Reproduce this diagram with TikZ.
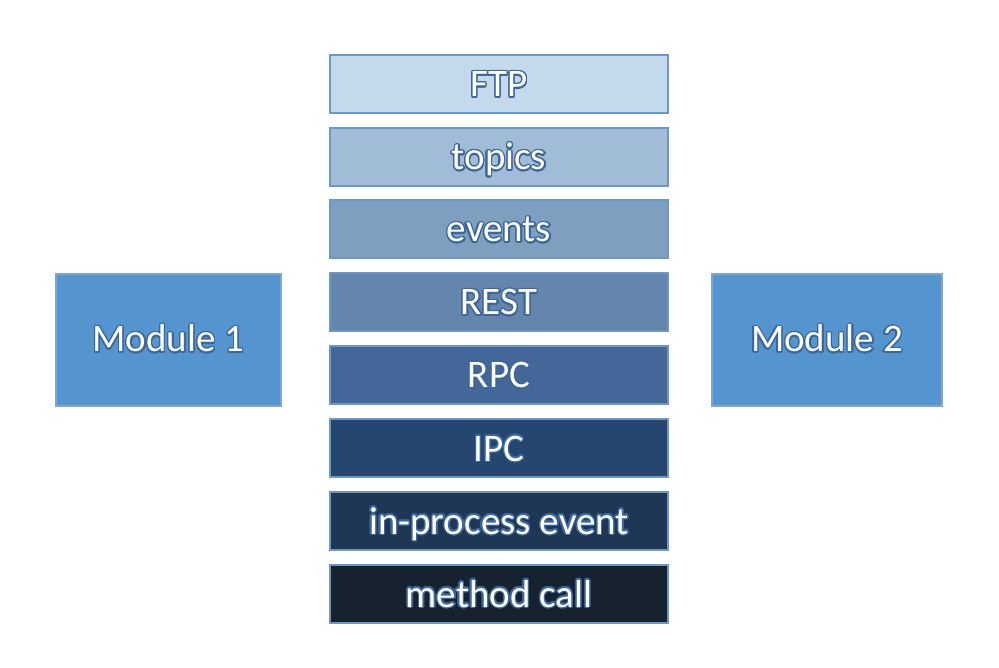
\documentclass[tikz,border=0pt]{standalone}
\usepackage{fontspec}
\setmainfont{Carlito}
\usepackage[copies]{contour}
\contourlength{1.3pt}
\contournumber{24}
\usepackage{tikz}
\definecolor{edgeblue}{HTML}{6B98C6}
\definecolor{glowblue}{HTML}{3D6699}
\definecolor{modblue}{HTML}{5495CF}
\definecolor{modedge}{HTML}{7DA8D6}
\definecolor{ftpfill}{HTML}{C4D9EC}
\definecolor{topicsfill}{HTML}{A0BCD6}
\definecolor{eventsfill}{HTML}{7F9FC1}
\definecolor{restfill}{HTML}{6485AC}
\definecolor{rpcfill}{HTML}{44679A}
\definecolor{ipcfill}{HTML}{24466F}
\definecolor{inprocfill}{HTML}{1F3655}
\definecolor{methodfill}{HTML}{17222F}
\tikzset{
    layer/.style={draw=edgeblue, line width=2pt, minimum width=338pt,
        minimum height=58pt, inner sep=0pt, text=white,
        text height=26pt, text depth=0pt,
        font=\fontsize{39}{40}\selectfont},
    module/.style={layer, draw=modedge, fill=modblue, minimum height=132pt,
        text height=24pt}
}
\newcommand\glow[1]{\contour{glowblue}{#1}}

\begin{document}
\begin{tikzpicture}[x=1pt,y=-1pt]
            \useasboundingbox (0,0) rectangle (999,668);
            % the stack of ways to talk
            \node[layer, fill=ftpfill]    (ftp)    at (499,84)  {\glow{FTP}};
            \node[layer, fill=topicsfill] (topics) at (499,157) {\glow{topics}};
            \node[layer, fill=eventsfill] (events) at (499,229) {\glow{events}};
            \node[layer, fill=restfill]   (rest)   at (499,302) {\glow{REST}};
            \node[layer, fill=rpcfill]    (rpc)    at (499,375) {\glow{RPC}};
            \node[layer, fill=ipcfill]    (ipc)    at (499,448) {\glow{IPC}};
            \node[layer, fill=inprocfill] (inproc) at (499,521) {\glow{in-process event}};
            \node[layer, fill=methodfill] (method) at (499,594) {\glow{method call}};
            % the two sides
            \node[module, minimum width=225pt] (modone) at (168.5,340) {\glow{Module 1}};
            \node[module, minimum width=230pt] (modtwo) at (827,340)   {\glow{Module 2}};
        \end{tikzpicture}
\end{document}
